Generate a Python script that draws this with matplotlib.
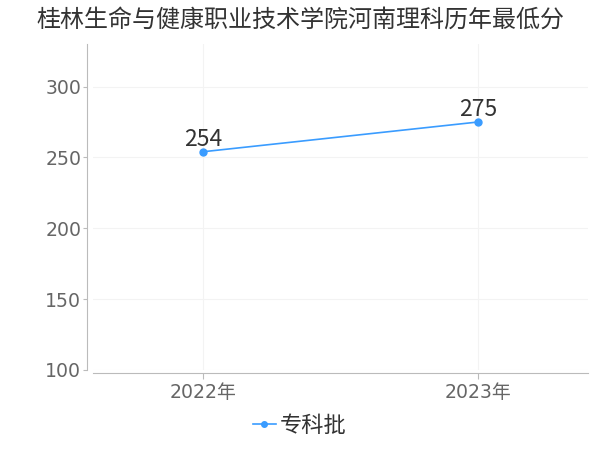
import matplotlib
matplotlib.use("Agg")
import matplotlib.pyplot as plt

plt.rcParams['font.family'] = ['DejaVu Sans', 'Noto Sans CJK SC']

title = "桂林生命与健康职业技术学院河南理科历年最低分"
years = ["2022年", "2023年"]
scores = [254, 275]
series_name = "专科批"
yticks = [100, 150, 200, 250, 300]

color = "#3a9cff"
cjk = ['Noto Sans CJK SC', 'DejaVu Sans']

fig = plt.figure(figsize=(6, 4.5), dpi=100)
ax = fig.add_axes([0.155, 0.178, 0.825, 0.724])

x = list(range(len(years)))
ax.plot(x, scores, color=color, lw=1.2, marker='o', ms=5, label=series_name)
for xi, v in zip(x, scores):
    ax.annotate(str(v), (xi, v), xytext=(0, 4), textcoords='offset points',
                ha='center', va='baseline', fontsize=16.5, color='#333333',
                family=cjk)

ax.set_xlim(-0.4, 1.4)
ax.set_ylim(100, 330)
ax.set_xticks(x)
ax.set_xticklabels(years)
ax.set_yticks(yticks)
ax.tick_params(axis='both', labelsize=13.6, colors='#666666', length=4, color='#bbbbbb')
ax.tick_params(axis='y', length=3, pad=1.5)
ax.grid(True, color='#f3f3f3', lw=0.8)
ax.set_axisbelow(True)

for s in ['top', 'right']:
    ax.spines[s].set_visible(False)
ax.spines['left'].set_position(('outward', 4))
ax.spines['bottom'].set_position(('outward', 2))
ax.spines['left'].set_color('#bbbbbb')
ax.spines['bottom'].set_color('#bbbbbb')

fig.text(0.5, 0.957, title, ha='center', va='center', fontsize=17.3, color='#333333',
         family=cjk)

leg = fig.legend(loc='center', bbox_to_anchor=(0.5, 0.055), frameon=False,
                 prop={'family': cjk, 'size': 16},
                 handlelength=1.0, handletextpad=0.2, markerscale=0.8)
for t in leg.get_texts():
    t.set_color('#333333')

fig.savefig("out.png", dpi=100)
